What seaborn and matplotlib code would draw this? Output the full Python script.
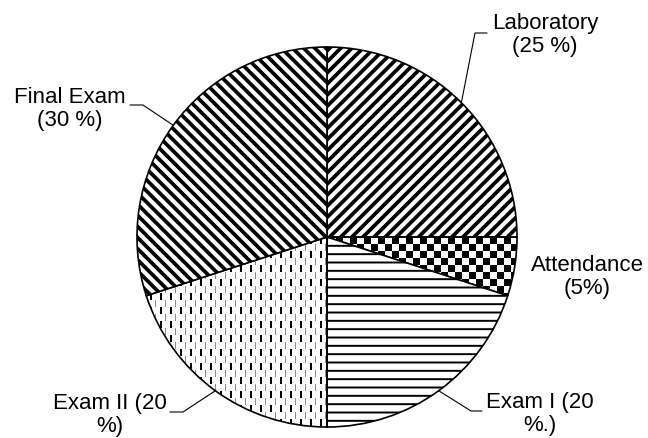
import numpy as np
import matplotlib
matplotlib.use("Agg")
import matplotlib.pyplot as plt
import seaborn as sns

# Course grade breakdown (percent)
components = ["Laboratory", "Attendance", "Exam I", "Exam II", "Final Exam"]
weights = [25, 5, 20, 20, 30]
label_texts = [
    "Laboratory\n(25 %)",
    "Attendance\n(5%)",
    "Exam I (20\n%.)",
    "Exam II (20\n%)",
    "Final Exam\n(30 %)",
]

W, H = 648, 439
CENTER = (327, 238)  # image pixels, y down
RADIUS = 190

# text centre and leader (elbow, end) in image pixels
label_layout = {
    "Laboratory": ((545, 35), (475, 34), (487, 34)),
    "Attendance": ((587, 277), None, None),
    "Exam I": ((540, 414), (471, 412), (482, 412)),
    "Exam II": ((110, 415), (183, 413), (170, 413)),
    "Final Exam": ((70, 109), (143, 106), (130, 106)),
}
hatches = {"Laboratory": "///", "Exam I": "--", "Final Exam": "\\\\\\"}
hatch_lw = {"Laboratory": 2.7, "Exam I": 1.4, "Final Exam": 2.7}


def up(p):
    # image pixel coords -> axes data coords (y up)
    return p[0], H - p[1]


sns.set_theme(style="white")
plt.rcParams["font.family"] = ["Liberation Sans", "DejaVu Sans"]
plt.rcParams["hatch.linewidth"] = 2.7

fig = plt.figure(figsize=(W / 100, H / 100), dpi=100)
ax = fig.add_axes([0, 0, 1, 1])

face = ["white" if c in hatches else "none" for c in components]
wedges, _ = ax.pie(
    weights,
    explode=[0.02] * len(weights),
    startangle=90,
    counterclock=False,
    center=up(CENTER),
    radius=RADIUS,
    colors=face,
    hatch=[hatches.get(c, "") for c in components],
    wedgeprops=dict(edgecolor="black", linewidth=1.2),
)
for c, w in zip(components, wedges):
    w.set_zorder(2)
    if c in hatch_lw and hasattr(w, "set_hatch_linewidth"):
        w.set_hatch_linewidth(hatch_lw[c])

# pattern fills that have no matplotlib hatch
yy, xx = np.mgrid[0:H, 0:W]
checker = ((xx // 7 + yy // 7) % 2 == 0)
dash_a = (xx % 10 < 2) & (yy % 14 < 7)
dash_b = (xx % 10 == 5) & ((yy + 7) % 14 < 7)


def pattern_rgba(mask_dark, mask_gray=None):
    img = np.ones((H, W, 4))
    img[mask_dark, :3] = 0.0
    if mask_gray is not None:
        img[mask_gray, :3] = 0.55
    return img


fills = {
    "Attendance": pattern_rgba(checker),
    "Exam II": pattern_rgba(dash_a, dash_b),
}
for c, w in zip(components, wedges):
    if c in fills:
        im = ax.imshow(fills[c], extent=(0, W, 0, H), origin="upper",
                       interpolation="nearest", zorder=1)
        im.set_clip_path(w)

# labels and leader lines
for c, w, txt in zip(components, wedges, label_texts):
    pos, elbow, end = label_layout[c]
    ax.text(*up(pos), txt, ha="center", va="center", fontsize=16,
            linespacing=1.15, color="black")
    if elbow is not None:
        mid = np.deg2rad((w.theta1 + w.theta2) / 2)
        sx = w.center[0] + w.r * np.cos(mid)
        sy = w.center[1] + w.r * np.sin(mid)
        ex, ey = up(elbow)
        nx, ny = up(end)
        ax.plot([sx, ex, nx], [sy, ey, ny], color="black", lw=0.8, zorder=3)

ax.set_xlim(0, W)
ax.set_ylim(0, H)
ax.set_aspect("equal")
ax.set_axis_off()

fig.savefig("out.png", dpi=100)
